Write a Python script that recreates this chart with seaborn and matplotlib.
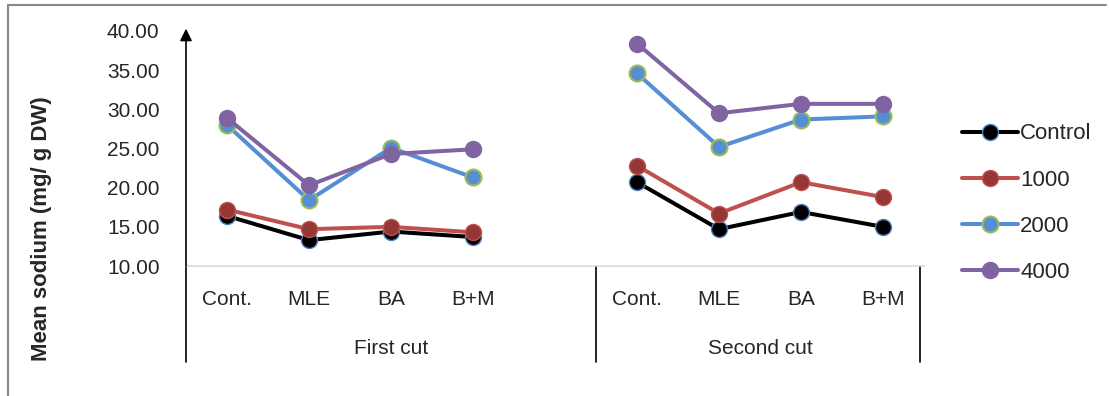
import pandas as pd
import seaborn as sns
import matplotlib.pyplot as plt
from matplotlib.lines import Line2D
import matplotlib.transforms as mtransforms

treatments = ["Cont.", "MLE", "BA", "B+M"]
cuts = ["First cut", "Second cut"]
series_names = ["Control", "1000", "2000", "4000"]

control_first = [16.4, 13.3, 14.4, 13.7]
control_second = [20.7, 14.7, 16.9, 15.0]
c1000_first = [17.2, 14.7, 15.0, 14.3]
c1000_second = [22.8, 16.7, 20.7, 18.8]
c2000_first = [28.0, 18.4, 25.1, 21.3]
c2000_second = [34.6, 25.2, 28.7, 29.1]
c4000_first = [28.9, 20.3, 24.3, 24.9]
c4000_second = [38.4, 29.5, 30.7, 30.7]

values = {
    "Control": (control_first, control_second),
    "1000": (c1000_first, c1000_second),
    "2000": (c2000_first, c2000_second),
    "4000": (c4000_first, c4000_second),
}

rows = []
for name in series_names:
    for ci, cut in enumerate(cuts):
        for ti, t in enumerate(treatments):
            rows.append({"series": name, "cut": cut, "treatment": t,
                         "pos": ci * 5 + ti, "value": values[name][ci][ti]})
df = pd.DataFrame(rows)

styles = {
    "Control": dict(color="black", mfc="black", mec="#4f81bd", mew=1.0),
    "1000": dict(color="#c0504d", mfc="#953735", mec="#c0504d", mew=1.0),
    "2000": dict(color="#558ed5", mfc="#558ed5", mec="#9bbb59", mew=1.5),
    "4000": dict(color="#8064a2", mfc="#8064a2", mec="#8064a2", mew=1.0),
}

sns.set_style("white")
plt.rcParams["font.family"] = ["Liberation Sans", "DejaVu Sans"]
fs = 15

fig = plt.figure(figsize=(11.09, 3.96), dpi=100)
ax = fig.add_axes([186 / 1109, 130 / 396, 738 / 1109, 235 / 396])

for name in series_names:
    st = styles[name]
    sns.lineplot(data=df[df["series"] == name], x="pos", y="value", units="cut",
                 estimator=None, ax=ax, color=st["color"], lw=2.9, marker="o",
                 markersize=11.5, markerfacecolor=st["mfc"],
                 markeredgecolor=st["mec"], markeredgewidth=st["mew"], label=name)

ax.set_xlim(-0.5, 8.5)
ax.set_ylim(10, 40)
ax.set_yticks([10, 15, 20, 25, 30, 35, 40])
ax.set_yticklabels([f"{v:.2f}" for v in [10, 15, 20, 25, 30, 35, 40]], fontsize=fs)
ax.set_xticks([0, 1, 2, 3, 5, 6, 7, 8])
ax.set_xticklabels(treatments * 2, fontsize=fs)
ax.tick_params(axis="y", length=0, pad=19)
ax.tick_params(axis="x", length=0, pad=17)
ax.set_xlabel("")
ax.set_ylabel("Mean sodium (mg/ g DW)", fontsize=fs + 1, fontweight="bold")
ax.yaxis.set_label_coords(-0.182, 0.16)

for s in ["top", "right", "left"]:
    ax.spines[s].set_visible(False)
ax.spines["bottom"].set_color("#d9d9d9")
ax.spines["bottom"].set_linewidth(1.2)

# y axis with arrow
ax.annotate("", xy=(0, 1.01), xytext=(0, 0), xycoords="axes fraction",
            arrowprops=dict(arrowstyle="-|>", color="black", lw=1.2,
                            mutation_scale=18, shrinkA=0, shrinkB=0))

# group separators and labels
trans = mtransforms.blended_transform_factory(ax.transData, ax.transAxes)
for xpos in [-0.5, 4.5, 8.45]:
    ax.add_line(Line2D([xpos, xpos], [0, -0.41], transform=trans, color="black",
                       lw=1.2, clip_on=False))
ax.text(2.0, -0.35, cuts[0], transform=trans, ha="center", va="center", fontsize=fs)
ax.text(6.5, -0.35, cuts[1], transform=trans, ha="center", va="center", fontsize=fs)

handles, labels = ax.get_legend_handles_labels()
uniq = dict(zip(labels, handles))
ax.legend([uniq[n] for n in series_names], series_names, loc="center left",
          bbox_to_anchor=(962 / 1109, 0.487), bbox_transform=fig.transFigure,
          frameon=False, fontsize=fs + 1, handlelength=2.5, handletextpad=0.12,
          labelspacing=1.13, borderpad=0, borderaxespad=0)

# outer frame (top and left)
fig.add_artist(Line2D([8 / 1109, 1106 / 1109], [391 / 396, 391 / 396],
                      transform=fig.transFigure, color="#898989", lw=1.5))
fig.add_artist(Line2D([8 / 1109, 8 / 1109], [0, 391 / 396],
                      transform=fig.transFigure, color="#898989", lw=1.5))

fig.savefig("out.png", dpi=100)
